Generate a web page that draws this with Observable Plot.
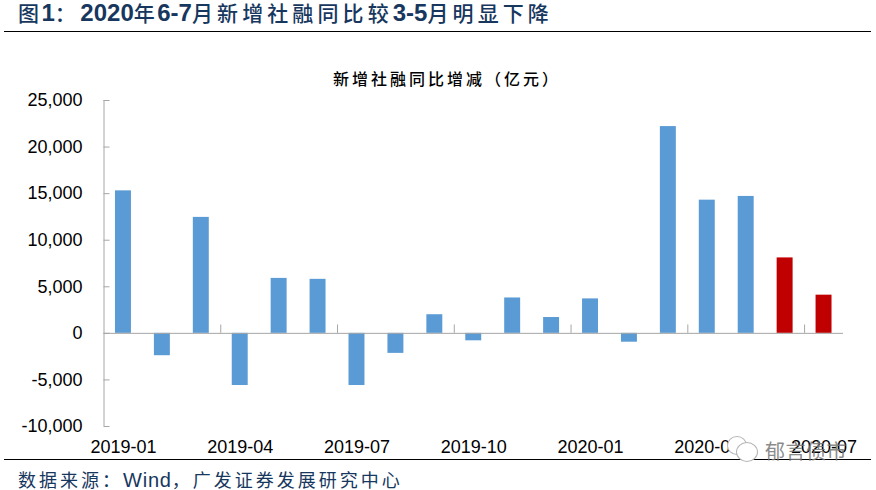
<!DOCTYPE html>
<html lang="zh">
<head>
<meta charset="utf-8">
<script src="https://cdn.jsdelivr.net/npm/d3@7"></script>
<script src="https://cdn.jsdelivr.net/npm/@observablehq/plot@0.6"></script>
<style>
html,body{margin:0;padding:0;background:#fff}
#page{position:relative;width:876px;height:490px;overflow:hidden;font-family:"Liberation Sans","Noto Sans CJK SC",sans-serif}
#page svg.plot,#page>svg{position:absolute;left:0;top:0}
.abs{position:absolute;white-space:nowrap}
#title{left:18px;top:-1px;font-size:24px;font-weight:700;color:#17375e;line-height:28px}
#title .c{font-weight:500;font-size:21px;letter-spacing:2.5px}
#title .r{letter-spacing:4.1px}
#title .gap{margin-left:2px}
#rule1{left:4px;top:31px;width:867px;height:1px;background:#000}
#chartTitle{left:333px;top:69px;font-size:16px;font-weight:500;line-height:22px;color:#000;letter-spacing:3px}
#rule2{left:4px;top:459px;width:867px;height:1px;background:#000}
#source{left:18px;top:468px;font-size:18px;line-height:24px;color:#17375e;letter-spacing:3px}
#source .w{font-size:20px;letter-spacing:.8px}
#wm{left:765px;top:439px;font-size:20px;line-height:26px;color:#777;opacity:.85;letter-spacing:.5px}
.bubble{border:1px solid #b5b5b5;border-radius:50%;background:#fff}
#b1{left:727px;top:436px;width:18px;height:17px}
#b2{left:736px;top:442px;width:20px;height:18px}
</style>
</head>
<body>
<div id="page">
  <div class="abs" id="title"><span class="c">图</span>1<span class="c">：</span><span class="gap">2020</span><span class="c">年</span>6-7<span class="c r">月新增社融同比较</span>3-5<span class="c r">月明显下降</span></div>
  <div class="abs" id="rule1"></div>
  <div class="abs" id="chartTitle">新增社融同比增减（亿元）</div>
  <div class="abs" id="rule2"></div>
  <div class="abs" id="source">数据来源：<span class="w">Wind</span>，广发证券发展研究中心</div>
</div>
<script>
const months = ["2019-01","2019-02","2019-03","2019-04","2019-05","2019-06","2019-07","2019-08","2019-09","2019-10","2019-11","2019-12","2020-01","2020-02","2020-03","2020-04","2020-05","2020-06","2020-07"];
const changes = [15300,-2400,12450,-5600,5900,5800,-5600,-2150,2000,-800,3800,1700,3700,-950,22200,14300,14700,8100,4100];
const highlighted = ["2020-06","2020-07"];
const labelledMonths = ["2019-01","2019-04","2019-07","2019-10","2020-01","2020-04","2020-07"];
const yTicks = [-10000,-5000,0,5000,10000,15000,20000,25000];

const rows = months.map((month,i)=>({month,value:changes[i]}));
const grey = "#a6a6a6";
const step = (876-103.5-33)/months.length;

const chart = Plot.plot({
  width:876,height:490,
  marginLeft:103.5,marginRight:33,marginTop:100,marginBottom:64,
  style:{background:"transparent",fontFamily:'"Liberation Sans","Noto Sans CJK SC",sans-serif',fontSize:"18px",color:"#000"},
  x:{type:"band",domain:months,paddingInner:0.59,paddingOuter:0.295,round:false,label:null},
  y:{domain:[-10000,25000],label:null},
  marks:[
    Plot.barY(rows,{x:"month",y:"value",fill:d=>highlighted.includes(d.month)?"#c00000":"#5b9bd5"}),
    Plot.ruleY([0],{stroke:grey,strokeWidth:1}),
    Plot.ruleX([months[0]],{y1:-10000,y2:25000,dx:-step/2,stroke:grey}),
    Plot.ruleX(labelledMonths.slice(1),{y1:0,y2:900,dx:-step/2,stroke:grey}),
    Plot.axisY({ticks:yTicks,tickSize:-6,tickPadding:27.5,stroke:grey,tickFormat:d=>d3.format(",")(d).replace("−","-"),fontSize:18,fill:"#000",label:null}),
    Plot.axisX({ticks:labelledMonths,tickSize:0,tickPadding:14,fontSize:18,fill:"#000",label:null})
  ]
});
const page=document.getElementById("page");
page.prepend(chart);
for(const id of ["b1","b2"]){const b=document.createElement("div");b.className="abs bubble";b.id=id;page.append(b);}
const wm=document.createElement("div");wm.className="abs";wm.id="wm";wm.textContent="郁言债市";
page.append(wm);
</script>
</body>
</html>
